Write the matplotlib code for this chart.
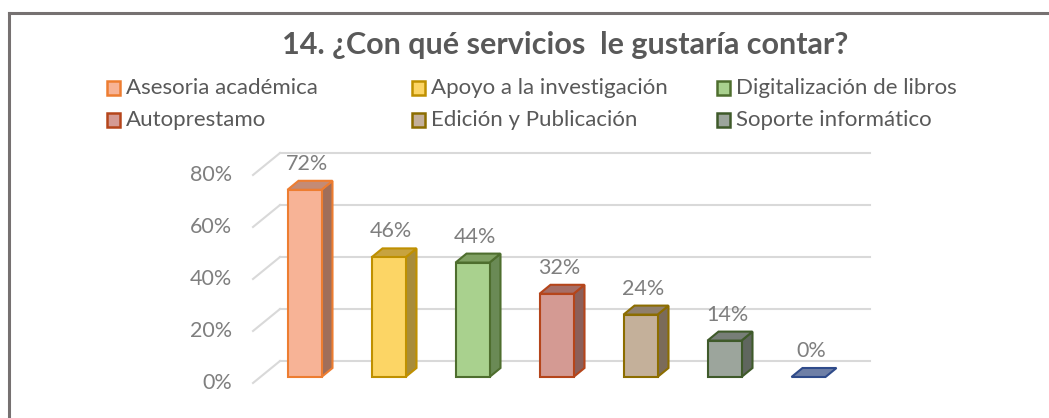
import matplotlib.pyplot as plt
from matplotlib.patches import Polygon, Rectangle

categorias = ["Asesoria académica", "Apoyo a la investigación", "Digitalización de libros",
              "Autoprestamo", "Edición y Publicación", "Soporte informático", ""]
valores = [72, 46, 44, 32, 24, 14, 0]
ticks = [0, 20, 40, 60, 80]

frente = ["#F7B396", "#FCD565", "#A9D18E", "#D49A93", "#C4B09A", "#9CA59C", "#6E7FA6"]
bordes = ["#ED7D31", "#BF9000", "#4E6E2E", "#B5451B", "#8C6D00", "#3F5A2A", "#2F4B8A"]
lateral = ["#A06E5A", "#A88C3A", "#6A8A55", "#8C5F59", "#7B6B59", "#5F665E", "#3F4F78"]
tapa = ["#C38B75", "#C7A33F", "#7FA062", "#A66E66", "#8F7F6C", "#777E77", "#6E7FA6"]

plt.rcParams['font.family'] = ['Lato', 'DejaVu Sans']

W, H = 1049, 418
fig = plt.figure(figsize=(W / 100, H / 100), dpi=100)

# marco
fig.add_artist(plt.Line2D([9 / W, 9 / W], [0, 1 - 13 / H], transform=fig.transFigure,
                          color="#767171", lw=2.2))
fig.add_artist(plt.Line2D([9 / W, 1], [1 - 13 / H, 1 - 13 / H], transform=fig.transFigure,
                          color="#767171", lw=2.2))

fig.text(565 / W, 1 - 45 / H, "14. ¿Con qué servicios  le gustaría contar?",
         ha="center", va="center", fontsize=22, fontweight="bold", color="#595959")

# leyenda
for i in range(6):
    col, fila = i % 3, i // 3
    x0 = 107 + col * 305
    y0 = 88 + fila * 32
    fig.add_artist(Rectangle((x0 / W, 1 - (y0 + 7) / H), 13 / W, 14 / H,
                             transform=fig.transFigure, facecolor=frente[i],
                             edgecolor=bordes[i], lw=1.8))
    fig.text((x0 + 19) / W, 1 - y0 / H, categorias[i], ha="left", va="center",
             fontsize=16, color="#595959")

# ejes en pixeles: x_px = 304.5 + 84*x, y_px = 377 - 2.6*y
ax_l, ax_r, ax_t, ax_b = 200, 900, 140, 400
ax = fig.add_axes([ax_l / W, 1 - ax_b / H, (ax_r - ax_l) / W, (ax_b - ax_t) / H])
ax.set_xlim((ax_l - 304.5) / 84, (ax_r - 304.5) / 84)
ax.set_ylim((377 - ax_b) / 2.6, (377 - ax_t) / 2.6)
ax.axis("off")

x_frente = (253 - 304.5) / 84
x_fondo = (280 - 304.5) / 84
x_fin = (870 - 304.5) / 84
dy_frente = -6 / 2.6
dy_fondo = 16 / 2.6
for t in ticks:
    ax.plot([x_fondo, x_fin], [t + dy_fondo, t + dy_fondo], color="#D9D9D9", lw=1.5, zorder=1)
    ax.plot([x_frente, x_fondo], [t + dy_frente, t + dy_fondo], color="#D9D9D9", lw=1.5, zorder=1)
    ax.text((232 - 304.5) / 84, t + dy_frente, f"{t}%", ha="right", va="center",
            fontsize=15.5, color="#7F7F7F")

w = 34 / 84
dx = 11 / 84
dy = 9 / 2.6
for i, v in enumerate(valores):
    x = i
    if v > 0:
        ax.add_patch(Polygon([(x + w / 2, 0), (x + w / 2 + dx, dy), (x + w / 2 + dx, v + dy),
                              (x + w / 2, v)], closed=True, facecolor=lateral[i],
                             edgecolor=bordes[i], lw=1.5, zorder=2))
    ax.add_patch(Polygon([(x - w / 2, v), (x + w / 2, v), (x + w / 2 + dx, v + dy),
                          (x - w / 2 + dx, v + dy)], closed=True, facecolor=tapa[i],
                         edgecolor=bordes[i], lw=1.5, zorder=2))
    if v > 0:
        ax.bar(x, v, width=w, color=frente[i], edgecolor=bordes[i], lw=1.5, zorder=3)
    ax.text(x + 0.03, v + 10, f"{v}%", ha="center", va="center", fontsize=15.5, color="#7F7F7F")

fig.savefig("out.png", dpi=100)
